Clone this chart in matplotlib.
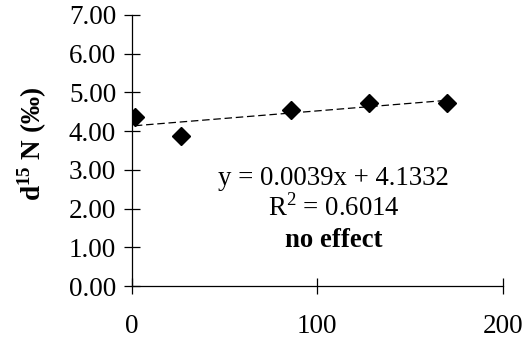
import matplotlib
matplotlib.use("Agg")
import matplotlib.pyplot as plt
import numpy as np

x_vals = [1.8, 26.7, 86, 128, 170]
y_vals = [4.37, 3.88, 4.55, 4.72, 4.72]
slope = 0.0039
intercept = 4.1332
eq_text = "y = 0.0039x + 4.1332"
r2_text = r"R$^{2}$ = 0.6014"
effect_text = "no effect"
ylabel = r"d$^{\mathbf{15}}$ N (‰)"
yticks = [0, 1, 2, 3, 4, 5, 6, 7]
xticks = [0, 100, 200]

plt.rcParams['font.family'] = ['Liberation Serif', 'DejaVu Serif']
plt.rcParams['mathtext.fontset'] = 'custom'
plt.rcParams['mathtext.rm'] = 'Liberation Serif'
plt.rcParams['mathtext.bf'] = 'Liberation Serif:bold'

W, H = 530, 339
fig = plt.figure(figsize=(W/100, H/100), dpi=100)
x0, x1, y0, y1 = 131.5, 503, 286, 15
ax = fig.add_axes([x0/W, 1-y0/H, (x1-x0)/W, (y0-y1)/H])

ax.plot(x_vals, y_vals, linestyle='none', marker='D', color='black', markersize=9.5, zorder=3)
xl = np.array([min(x_vals), max(x_vals)])
ax.plot(xl, slope*xl + intercept, linestyle=(0, (6, 3)), color='black', linewidth=0.9)

ax.set_xlim(0, 200)
ax.set_ylim(0, 7)
ax.set_yticks(yticks)
ax.set_yticklabels([f"{v:.2f}" for v in yticks])
ax.set_xticks(xticks)
ax.tick_params(direction='inout', length=12, width=0.9, labelsize=19.5, colors='black')
ax.tick_params(axis='y', pad=5)
ax.tick_params(axis='x', pad=14)
for s in ['top', 'right']:
    ax.spines[s].set_visible(False)
for s in ['left', 'bottom']:
    ax.spines[s].set_linewidth(0.9)

ax.set_ylabel(ylabel, fontsize=19.5, fontweight='bold', va='center')
ax.yaxis.set_label_coords((32 - x0)/(x1 - x0), (y0 - 143.5)/(y0 - y1))

cx = (333.5 - x0)/(x1 - x0)
def fy(py):
    return (y0 - py)/(y0 - y1)
ax.text(cx, fy(185), eq_text, transform=ax.transAxes, ha='center', va='baseline', fontsize=19.3)
ax.text(cx, fy(216), r2_text, transform=ax.transAxes, ha='center', va='baseline', fontsize=19.3)
ax.text(cx, fy(247), effect_text, transform=ax.transAxes, ha='center', va='baseline', fontsize=19.3, fontweight='bold')

fig.savefig("out.png", dpi=100)
